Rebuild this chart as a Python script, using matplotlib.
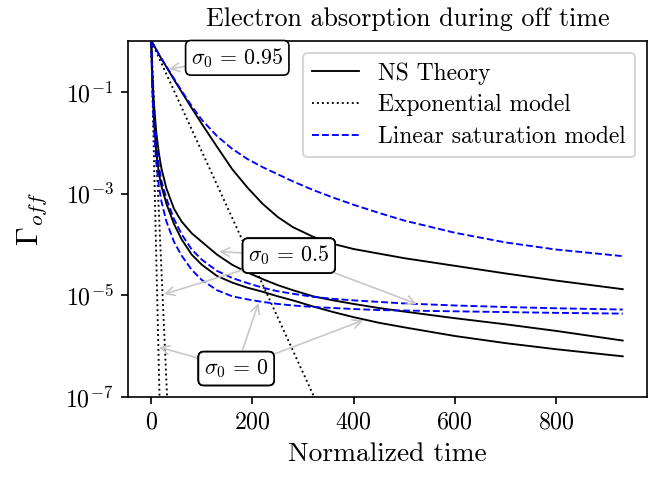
import numpy as np
import matplotlib
matplotlib.use("Agg")
import matplotlib.pyplot as plt

plt.rcParams.update({
    "font.family": "serif",
    "font.serif": ["cmr10", "DejaVu Serif"],
    "mathtext.fontset": "cm",
    "axes.formatter.use_mathtext": True,
    "axes.unicode_minus": False,
})

# ---- data (stored as log10 of Gamma_off) ----
t = [0, 2, 5, 10, 15, 20, 30, 45, 60, 80, 100, 130, 160, 190, 220, 250,
     280, 320, 360, 400, 450, 500, 600, 700, 800, 932]

ns_s095_log = [0, -0.03, -0.08, -0.17, -0.26, -0.35, -0.51, -0.76, -1.0, -1.32,
               -1.63, -2.08, -2.52, -2.88, -3.2, -3.46, -3.66, -3.85, -3.99,
               -4.09, -4.18, -4.27, -4.42, -4.57, -4.71, -4.88]
ls_s095_log = [0, -0.03, -0.08, -0.17, -0.26, -0.34, -0.5, -0.74, -0.98, -1.28,
               -1.55, -1.87, -2.12, -2.32, -2.48, -2.62, -2.76, -2.93, -3.08,
               -3.22, -3.38, -3.53, -3.77, -3.96, -4.1, -4.23]
ns_s05_log = [0, -0.6, -1.2, -1.8, -2.2, -2.5, -2.9, -3.3, -3.55, -3.78,
              -3.95, -4.2, -4.4, -4.55, -4.68, -4.8, -4.9, -5.02, -5.1,
              -5.17, -5.25, -5.32, -5.45, -5.57, -5.7, -5.89]
ls_s05_log = [0, -0.7, -1.35, -2.0, -2.45, -2.75, -3.1, -3.5, -3.8, -4.1,
              -4.3, -4.52, -4.66, -4.76, -4.85, -4.92, -4.97, -5.03, -5.07,
              -5.1, -5.13, -5.16, -5.2, -5.23, -5.255, -5.28]
ns_s0_log = [0, -0.8, -1.5, -2.2, -2.6, -2.85, -3.2, -3.6, -3.9, -4.2,
             -4.4, -4.62, -4.75, -4.85, -4.93, -5.02, -5.1, -5.22, -5.33,
             -5.43, -5.54, -5.63, -5.8, -5.94, -6.06, -6.2]
ls_s0_log = [0, -0.9, -1.7, -2.4, -2.85, -3.15, -3.55, -3.95, -4.22, -4.5,
             -4.7, -4.9, -5.02, -5.08, -5.13, -5.17, -5.2, -5.23, -5.25,
             -5.27, -5.29, -5.3, -5.315, -5.33, -5.345, -5.36]

# exponential model: straight lines on log axis (start, point at bottom edge)
exp_s095_t = [0, 322]
exp_s05_t = [0, 31.3]
exp_s0_t = [0, 16.3]
exp_vals = [1.0, 1e-7]

labels = ["NS Theory", "Exponential model", "Linear saturation model"]

fig = plt.figure(figsize=(668 / 150, 477 / 150), dpi=150)
ax = fig.add_axes([0.1916, 0.1677, 0.777, 0.7463])

lw = 0.9
ns_sets = [ns_s095_log, ns_s05_log, ns_s0_log]
ls_sets = [ls_s095_log, ls_s05_log, ls_s0_log]
exp_sets = [exp_s095_t, exp_s05_t, exp_s0_t]
for i in range(3):
    ax.plot(t, 10.0 ** np.array(ns_sets[i]), "k-", lw=lw,
            label=labels[0] if i == 0 else None)
    ax.plot(exp_sets[i], exp_vals, "k:", lw=lw,
            label=labels[1] if i == 0 else None)
    ax.plot(t, 10.0 ** np.array(ls_sets[i]), "b--", lw=lw,
            label=labels[2] if i == 0 else None)

ax.set_yscale("log")
ax.set_ylim(1e-7, 1.0)
ax.set_xlim(-46, 980)
ax.set_yticks([1e-7, 1e-5, 1e-3, 1e-1])
ax.yaxis.set_minor_locator(matplotlib.ticker.NullLocator())
ax.set_xticks([0, 200, 400, 600, 800])
ax.tick_params(labelsize=11.5)

ax.set_title("Electron absorption during off time", fontsize=12.5, pad=7, x=0.54)
ax.set_xlabel("Normalized time", fontsize=13.2)
ax.set_ylabel(r"$\Gamma_{off}$", fontsize=14.5, labelpad=8)

ax.legend(loc="upper right", fontsize=11.3, handlelength=2.0, labelspacing=0.4)

bbox = dict(boxstyle="round,pad=0.25", fc="white", ec="black", lw=0.8)
arrow = dict(arrowstyle="->", color="#c8c8c8", lw=0.8, shrinkA=0, shrinkB=0)

ann_fs = 10.5
lab095 = r"$\sigma_0\,=\,0.95$"
lab05 = r"$\sigma_0\,=\,0.5$"
lab0 = r"$\sigma_0\,=\,0$"
# sigma0 = 0.95
ax.annotate(lab095, xy=(35, 10 ** -0.55), xytext=(170, 10 ** -0.33),
            ha="center", va="center", fontsize=ann_fs, bbox=bbox, arrowprops=arrow)
# sigma0 = 0.5
for tip in [(134, 10 ** -4.14), (25, 10 ** -4.98), (525, 10 ** -5.17)]:
    ax.annotate(lab05, xy=tip, xytext=(272, 10 ** -4.22),
                ha="center", va="center", fontsize=ann_fs, bbox=bbox, arrowprops=arrow)
# sigma0 = 0
for tip in [(15, 10 ** -6.02), (212, 10 ** -5.15), (419, 10 ** -5.49)]:
    ax.annotate(lab0, xy=tip, xytext=(168, 10 ** -6.44),
                ha="center", va="center", fontsize=ann_fs, bbox=bbox, arrowprops=arrow)

fig.savefig("out.png", dpi=150)
